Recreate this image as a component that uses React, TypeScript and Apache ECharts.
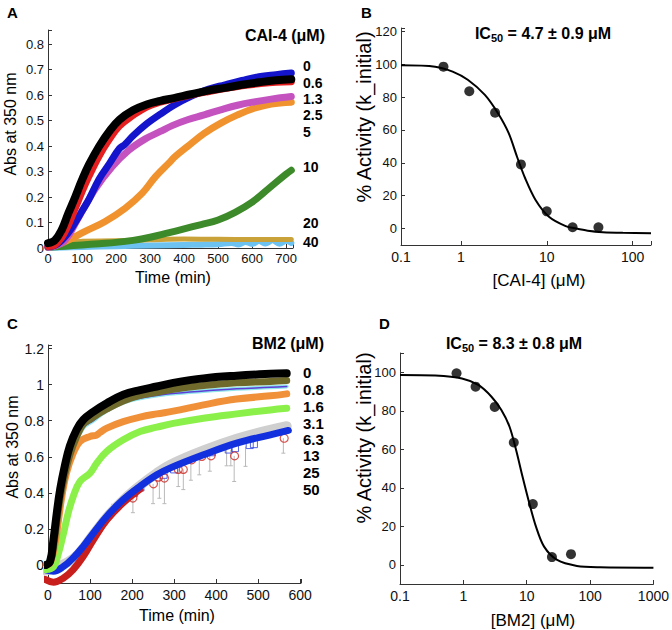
import React, { useEffect, useRef } from "react";
import * as echarts from "echarts";

const FONT = "'Liberation Sans', Arial, Helvetica, sans-serif";

// ---------- Panel A: turbidity vs time, CAI-4 ----------
const aLabels = ["0", "0.6", "1.3", "2.5", "5", "10", "20", "40"];
const aT0 = [0, 20, 40, 60, 80, 100, 120, 150, 180, 210, 250, 290, 330, 370, 420, 470, 520, 570, 620, 670, 715];
const aV0 = [0.019, 0.03, 0.07, 0.137, 0.2, 0.267, 0.326, 0.398, 0.457, 0.503, 0.54, 0.563, 0.577, 0.588, 0.603, 0.617, 0.628, 0.64, 0.65, 0.658, 0.662];
const aT06 = [0, 20, 40, 60, 80, 100, 120, 150, 180, 210, 250, 290, 330, 370, 420, 470, 520, 570, 620, 670, 715];
const aV06 = [0.006, 0.012, 0.04, 0.09, 0.155, 0.22, 0.28, 0.36, 0.425, 0.478, 0.52, 0.553, 0.572, 0.585, 0.6, 0.613, 0.625, 0.636, 0.644, 0.65, 0.652];
const aT13 = [0, 20, 40, 60, 80, 100, 120, 150, 180, 210, 225, 250, 290, 330, 370, 420, 470, 520, 570, 620, 670, 715];
const aV13 = [0.005, 0.01, 0.03, 0.06, 0.1, 0.145, 0.19, 0.27, 0.33, 0.39, 0.405, 0.44, 0.487, 0.525, 0.56, 0.595, 0.622, 0.64, 0.657, 0.672, 0.68, 0.686];
const aT25 = [0, 20, 50, 90, 139, 188, 237, 286, 330, 365, 410, 459, 510, 557, 610, 656, 715];
const aV25 = [0.003, 0.008, 0.03, 0.12, 0.232, 0.318, 0.383, 0.428, 0.457, 0.48, 0.503, 0.522, 0.543, 0.56, 0.574, 0.584, 0.594];
const aT5 = [0, 20, 50, 109, 168, 227, 277, 316, 355, 375, 410, 459, 508, 557, 606, 656, 715];
const aV5 = [0.003, 0.01, 0.025, 0.065, 0.104, 0.156, 0.215, 0.28, 0.333, 0.36, 0.398, 0.45, 0.49, 0.522, 0.548, 0.565, 0.572];
const aT10 = [0, 50, 100, 150, 200, 250, 300, 350, 400, 450, 500, 550, 600, 650, 700, 715];
const aV10 = [0.003, 0.007, 0.012, 0.017, 0.022, 0.03, 0.042, 0.058, 0.075, 0.092, 0.11, 0.14, 0.18, 0.235, 0.29, 0.305];
const aT20 = [0, 30, 60, 100, 200, 300, 400, 500, 600, 715];
const aV20 = [0.004, 0.012, 0.022, 0.026, 0.028, 0.032, 0.035, 0.034, 0.033, 0.033];
const aT40 = [0, 100, 200, 300, 400, 450, 500, 540, 560, 580, 600, 620, 640, 660, 680, 700, 715];
const aV40 = [0, 0.004, 0.007, 0.01, 0.012, 0.013, 0.015, 0.02, 0.014, 0.024, 0.016, 0.027, 0.018, 0.03, 0.017, 0.028, 0.02];

// ---------- Panel B: dose response CAI-4 ----------
const bConc = [0.625, 1.25, 2.5, 5, 10, 20, 40];
const bAct = [98.5, 83.5, 70.5, 39, 10.5, 0.8, 0.8];
const bFitX = [0.2, 0.5, 0.8, 1.2, 1.9, 2.7, 3.6, 4.5, 5.6, 7.4, 10.6, 16.6, 22, 30, 45, 77, 164];
const bFitY = [99.3, 98.5, 95.5, 90.5, 81.3, 70.1, 58, 43.7, 30.6, 17.4, 7.2, 1.5, 0, -1.3, -2.2, -2.6, -2.8];

// ---------- Panel C: turbidity vs time, BM2 ----------
const cLabels = ["0", "0.8", "1.6", "3.1", "6.3", "13", "25", "50"];
const cT0 = [-5, 5, 13, 21, 29, 40, 52, 68, 84, 108, 140, 179, 219, 259, 298, 370, 449, 529, 568];
const cV0 = [0.0, 0.02, 0.14, 0.29, 0.42, 0.55, 0.66, 0.75, 0.805, 0.85, 0.897, 0.944, 0.97, 0.99, 1.01, 1.035, 1.05, 1.06, 1.063];
const cT08 = [-5, 5, 13, 21, 29, 40, 52, 68, 84, 108, 140, 179, 219, 259, 298, 370, 449, 529, 568];
const cV08 = [0.0, 0.015, 0.1, 0.24, 0.37, 0.5, 0.61, 0.71, 0.78, 0.82, 0.865, 0.91, 0.94, 0.958, 0.975, 0.995, 1.01, 1.018, 1.023];
const cT16 = [-5, 13, 29, 52, 84, 108, 136, 179, 219, 259, 290, 370, 449, 529, 568];
const cV16 = [0.0, 0.1, 0.36, 0.6, 0.76, 0.8, 0.85, 0.9, 0.925, 0.94, 0.95, 0.965, 0.977, 0.985, 0.99];
const cT31 = [-5, 5, 17, 25, 33, 44, 60, 76, 100, 115, 124, 140, 179, 219, 259, 298, 370, 449, 529, 568];
const cV31 = [0.0, 0.01, 0.12, 0.25, 0.38, 0.51, 0.62, 0.685, 0.713, 0.72, 0.735, 0.759, 0.795, 0.82, 0.838, 0.853, 0.888, 0.92, 0.938, 0.949];
const cT63 = [-5, 13, 25, 37, 48, 60, 76, 100, 116, 140, 179, 219, 259, 298, 370, 449, 529, 568];
const cV63 = [-0.025, -0.01, 0.066, 0.177, 0.288, 0.38, 0.463, 0.51, 0.565, 0.63, 0.694, 0.74, 0.764, 0.785, 0.814, 0.838, 0.86, 0.869];
const cT13 = [-5, 60, 108, 140, 179, 219, 259, 290, 370, 449, 529, 568];
const cV13 = [-0.03, 0.035, 0.17, 0.265, 0.36, 0.44, 0.51, 0.555, 0.635, 0.7, 0.75, 0.77];
const cT25 = [-7, 13, 37, 60, 84, 108, 140, 179, 219, 259, 290, 370, 449, 529, 572];
const cV25 = [-0.026, -0.035, -0.008, 0.039, 0.103, 0.177, 0.27, 0.362, 0.436, 0.5, 0.537, 0.611, 0.676, 0.722, 0.746];
const cT50 = [-7, 13, 37, 60, 84, 108, 140, 179, 219];
const cV50 = [-0.08, -0.096, -0.072, -0.026, 0.048, 0.14, 0.25, 0.345, 0.42];
const cCircleT = [202, 251, 263, 277, 310, 322, 342, 366, 388, 444, 562];
const cCircleV = [0.371, 0.45, 0.487, 0.482, 0.53, 0.53, 0.583, 0.602, 0.605, 0.605, 0.703];
const cSquareT = [205, 220, 275, 300, 390, 430, 445, 480, 490];
const cSquareV = [0.4, 0.43, 0.5, 0.53, 0.625, 0.64, 0.648, 0.665, 0.67];
const cErrT = [152, 202, 250, 265, 277, 310, 322, 340, 360, 385, 425, 435, 443, 470, 560];
const cErrLo = [0.27, 0.29, 0.34, 0.37, 0.34, 0.435, 0.418, 0.47, 0.5, 0.52, 0.55, 0.55, 0.463, 0.547, 0.62];
const cErrHi = [0.34, 0.4, 0.45, 0.49, 0.48, 0.53, 0.53, 0.58, 0.6, 0.605, 0.65, 0.64, 0.605, 0.657, 0.703];

// ---------- Panel D: dose response BM2 ----------
const dConc = [0.78, 1.56, 3.125, 6.25, 12.5, 25, 50];
const dAct = [99.5, 92.5, 82, 63.5, 31.5, 4, 5.5];
const dFitX = [0.1, 0.36, 0.95, 1.72, 2.78, 3.98, 5.36, 6.8, 8.6, 11, 14, 18.8, 30.2, 62, 143, 1000];
const dFitY = [98.6, 98.3, 96.8, 93.4, 87.3, 80.4, 71.7, 59.6, 45.7, 31.9, 19.8, 9.4, 2.5, -0.6, -1.3, -1.5];

// layout: vertical centres of the inline concentration labels
const aLabelY = [66, 83, 99, 115, 132, 167, 223, 242];
const cLabelY = [372, 389, 406, 423, 439, 455, 472, 489];

const zip = (t: number[], v: number[]) => t.map((x, i) => [x, v[i]]);

const AX = "#333333";

function valueAxis(gi: number, min: number, max: number, step: number, fmt: (v: number) => string, margin: number, fontSize = 13) {
  return {
    type: "value",
    gridIndex: gi,
    min,
    max,
    minInterval: step,
    maxInterval: step,
    axisLine: { show: true, onZero: false, lineStyle: { color: AX, width: 1 } },
    axisTick: { show: true, inside: true, length: 4, lineStyle: { color: AX } },
    splitLine: { show: false },
    axisLabel: { color: "#111", fontSize, fontFamily: FONT, margin, formatter: fmt, hideOverlap: false, showMinLabel: true, showMaxLabel: true },
  };
}

function logAxis(gi: number, min: number, max: number, fmt: (v: number) => string) {
  return {
    type: "log",
    logBase: 10,
    gridIndex: gi,
    min,
    max,
    axisLine: { show: true, onZero: false, lineStyle: { color: AX, width: 1 } },
    axisTick: { show: true, inside: true, length: 4, lineStyle: { color: AX } },
    splitLine: { show: false },
    minorTick: { show: false },
    axisLabel: { color: "#111", fontSize: 14, fontFamily: FONT, margin: 5, formatter: fmt, hideOverlap: false, showMinLabel: true, showMaxLabel: true },
  };
}

function band(name: string, t: number[], v: number[], color: string, width: number, gi: number) {
  return {
    name,
    type: "line",
    xAxisIndex: gi,
    yAxisIndex: gi,
    data: zip(t, v),
    symbol: "none",
    showSymbol: false,
    smooth: 0.4,
    clip: false,
    silent: true,
    lineStyle: { color, width, cap: "round", join: "round" },
  };
}

function txt(x: number, y: number, text: string, size: number, bold: boolean, align = "left", rotation = 0, lineHeight?: number) {
  const style: any = {
    text,
    fill: "#000",
    font: `${bold ? "bold " : ""}${size}px ${FONT}`,
    align,
    verticalAlign: "middle",
    textAlign: align,
    textVerticalAlign: "middle",
  };
  if (lineHeight) style.lineHeight = lineHeight;
  return { type: "text", x, y, rotation, silent: true, style };
}

function icTitle(x: number, y: number, rest: string) {
  return {
    type: "text",
    x,
    y,
    silent: true,
    style: {
      text: `{a|IC}{b|50}{a| = ${rest}}`,
      align: "center",
      verticalAlign: "middle",
      textAlign: "center",
      textVerticalAlign: "middle",
      rich: {
        a: { fontSize: 16, fontWeight: "bold", fontFamily: FONT, fill: "#000", color: "#000", lineHeight: 20, verticalAlign: "middle" },
        b: { fontSize: 11, fontWeight: "bold", fontFamily: FONT, fill: "#000", color: "#000", lineHeight: 20, verticalAlign: "bottom", padding: [7, 0, 0, 0] },
      },
    },
  };
}

export default function App() {
  const ref = useRef<HTMLDivElement>(null);
  useEffect(() => {
    if (!ref.current) return;
    const chart = echarts.init(ref.current, undefined, { renderer: "svg" });

    const fmtAy = (v: number) => (v > 0.85 ? "" : String(Math.round(v * 10) / 10));
    const fmtAx = (v: number) => (Math.abs(v % 100) < 1e-6 && v <= 700 ? String(v) : "");
    const fmtCx = (v: number) => (Math.abs(v % 100) < 1e-6 && v >= 0 && v <= 600 ? String(v) : "");
    const fmtCy = (v: number) => {
      const k = v * 5;
      return Math.abs(k - Math.round(k)) < 1e-6 && v > -0.01 && v < 1.21 ? String(+v.toFixed(1)) : "";
    };
    const fmtBy = (v: number) => (Math.abs(v % 20) < 1e-6 && v >= 0 && v <= 120 ? String(Math.round(v)) : "");
    const fmtDy = (v: number) => (Math.abs(v % 20) < 1e-6 && v >= 0 && v <= 100 ? String(Math.round(v)) : "");
    const fmtBx = (v: number) => (v < 0.5 ? "0.1" : v > 150 ? "" : String(Math.round(v)));
    const fmtDx = (v: number) => (v < 0.5 ? "0.1" : String(Math.round(v)));

    const option: any = {
      animation: false,
      backgroundColor: "#ffffff",
      grid: [
        { left: 48, top: 30, width: 245, height: 218 },
        { left: 401, top: 28, width: 250, height: 217 },
        { left: 48, top: 345, width: 253, height: 238 },
        { left: 400, top: 353, width: 257, height: 231 },
      ],
      xAxis: [
        valueAxis(0, 0, 720, 100, fmtAx, 4),
        logAxis(1, 0.2, 164, fmtBx),
        valueAxis(2, 0, 602, 100, fmtCx, 5, 14),
        logAxis(3, 0.1, 1000, fmtDx),
      ],
      yAxis: [
        valueAxis(0, 0, 0.855, 0.1, fmtAy, 4),
        valueAxis(1, -10, 122, 20, fmtBy, 4),
        valueAxis(2, -0.1, 1.22, 0.2, fmtCy, 4, 14),
        valueAxis(3, -10, 110, 20, fmtDy, 4),
      ],
      series: [
        // Panel A
        band("40", aT40, aV40, "#6cc3f2", 6, 0),
        band("20", aT20, aV20, "#c9a23a", 5, 0),
        band("10", aT10, aV10, "#3d8a2a", 7, 0),
        band("5", aT5, aV5, "#f0932f", 7, 0),
        band("2.5", aT25, aV25, "#c453c0", 7, 0),
        band("1.3", aT13, aV13, "#1414cc", 7, 0),
        band("0.6", aT06, aV06, "#e51f1f", 7, 0),
        band("0", aT0, aV0, "#000000", 8, 0),
        // Panel B
        {
          name: "fit B", type: "line", xAxisIndex: 1, yAxisIndex: 1, data: zip(bFitX, bFitY),
          symbol: "none", smooth: 0.3, lineStyle: { color: "#000", width: 2 }, silent: true,
        },
        {
          name: "data B", type: "scatter", xAxisIndex: 1, yAxisIndex: 1, data: zip(bConc, bAct),
          symbol: "circle", symbolSize: 10, itemStyle: { color: "#000" }, silent: true,
        },
        // Panel C
        {
          name: "error bars", type: "custom", xAxisIndex: 2, yAxisIndex: 2,
          data: cErrT.map((t, i) => [t, cErrLo[i], cErrHi[i]]),
          silent: true,
          renderItem: (params: any, api: any) => {
            const p1 = api.coord([api.value(0), api.value(1)]);
            const p2 = api.coord([api.value(0), api.value(2)]);
            const st = { stroke: "#b9b9b9", lineWidth: 1 };
            return {
              type: "group",
              children: [
                { type: "line", shape: { x1: p1[0], y1: p1[1], x2: p2[0], y2: p2[1] }, style: st },
                { type: "line", shape: { x1: p1[0] - 2, y1: p1[1], x2: p1[0] + 2, y2: p1[1] }, style: st },
              ],
            };
          },
        },
        band("13", cT13, cV13, "#cfcfcf", 10, 2),
        band("50", cT50, cV50, "#c81f1c", 7, 2),
        band("25", cT25, cV25, "#1230dd", 7, 2),
        {
          name: "25 pts", type: "scatter", xAxisIndex: 2, yAxisIndex: 2, data: zip(cSquareT, cSquareV),
          symbol: "rect", symbolSize: 7, itemStyle: { color: "rgba(0,0,0,0)", borderColor: "#2a3fe0", borderWidth: 1 }, silent: true,
        },
        {
          name: "50 pts", type: "scatter", xAxisIndex: 2, yAxisIndex: 2, data: zip(cCircleT, cCircleV),
          symbol: "circle", symbolSize: 8, itemStyle: { color: "rgba(0,0,0,0)", borderColor: "#cc2a26", borderWidth: 1.2 }, silent: true,
        },
        band("6.3", cT63, cV63, "#8cf04a", 7, 2),
        band("3.1", cT31, cV31, "#f0913a", 7, 2),
        band("1.6 halo", cT16, cV16, "#8fe6ea", 4, 2),
        band("1.6", cT16, cV16, "#5b3fd6", 1.5, 2),
        band("0.8", cT08, cV08, "#6f6a2c", 7, 2),
        band("0", cT0, cV0, "#000000", 8, 2),
        // Panel D
        {
          name: "fit D", type: "line", xAxisIndex: 3, yAxisIndex: 3, data: zip(dFitX, dFitY),
          symbol: "none", smooth: 0.3, lineStyle: { color: "#000", width: 2 }, silent: true,
        },
        {
          name: "data D", type: "scatter", xAxisIndex: 3, yAxisIndex: 3, data: zip(dConc, dAct),
          symbol: "circle", symbolSize: 10, itemStyle: { color: "#000" }, silent: true,
        },
      ],
      graphic: [
        txt(7, 12, "A", 15, true),
        txt(361, 12, "B", 15, true),
        txt(7, 323, "C", 15, true),
        txt(379, 323, "D", 15, true),
        txt(245, 35, "CAI-4 (\u03bcM)", 16, true),
        txt(252, 343, "BM2 (\u03bcM)", 16, true),
        ...aLabels.map((l, i) => txt(303, aLabelY[i], l, 14, true, "left", 0, 14)),
        ...cLabels.map((l, i) => txt(303, cLabelY[i], l, 15, true, "left", 0, 14)),
        icTitle(543, 33, "4.7 \u00b1 0.9 \u03bcM"),
        icTitle(514, 343, "8.3 \u00b1 0.8 \u03bcM"),
        txt(173, 277, "Time (min)", 16, false, "center"),
        txt(177, 615, "Time (min)", 16, false, "center"),
        txt(10, 124, "Abs at 350 nm", 16, false, "center", Math.PI / 2),
        txt(12, 447, "Abs at 350 nm", 16, false, "center", Math.PI / 2),
        txt(539, 280, "[CAI-4] (\u03bcM)", 17, false, "center"),
        txt(533, 620, "[BM2] (\u03bcM)", 17, false, "center"),
        txt(364, 117, "% Activity (k_initial)", 20, false, "center", Math.PI / 2),
        txt(364, 438, "% Activity (k_initial)", 20, false, "center", Math.PI / 2),
      ],
    };
    chart.setOption(option);
    return () => chart.dispose();
  }, []);
  return <div ref={ref} style={{ position: "absolute", left: 0, top: 0, width: 672, height: 630 }} />;
}
